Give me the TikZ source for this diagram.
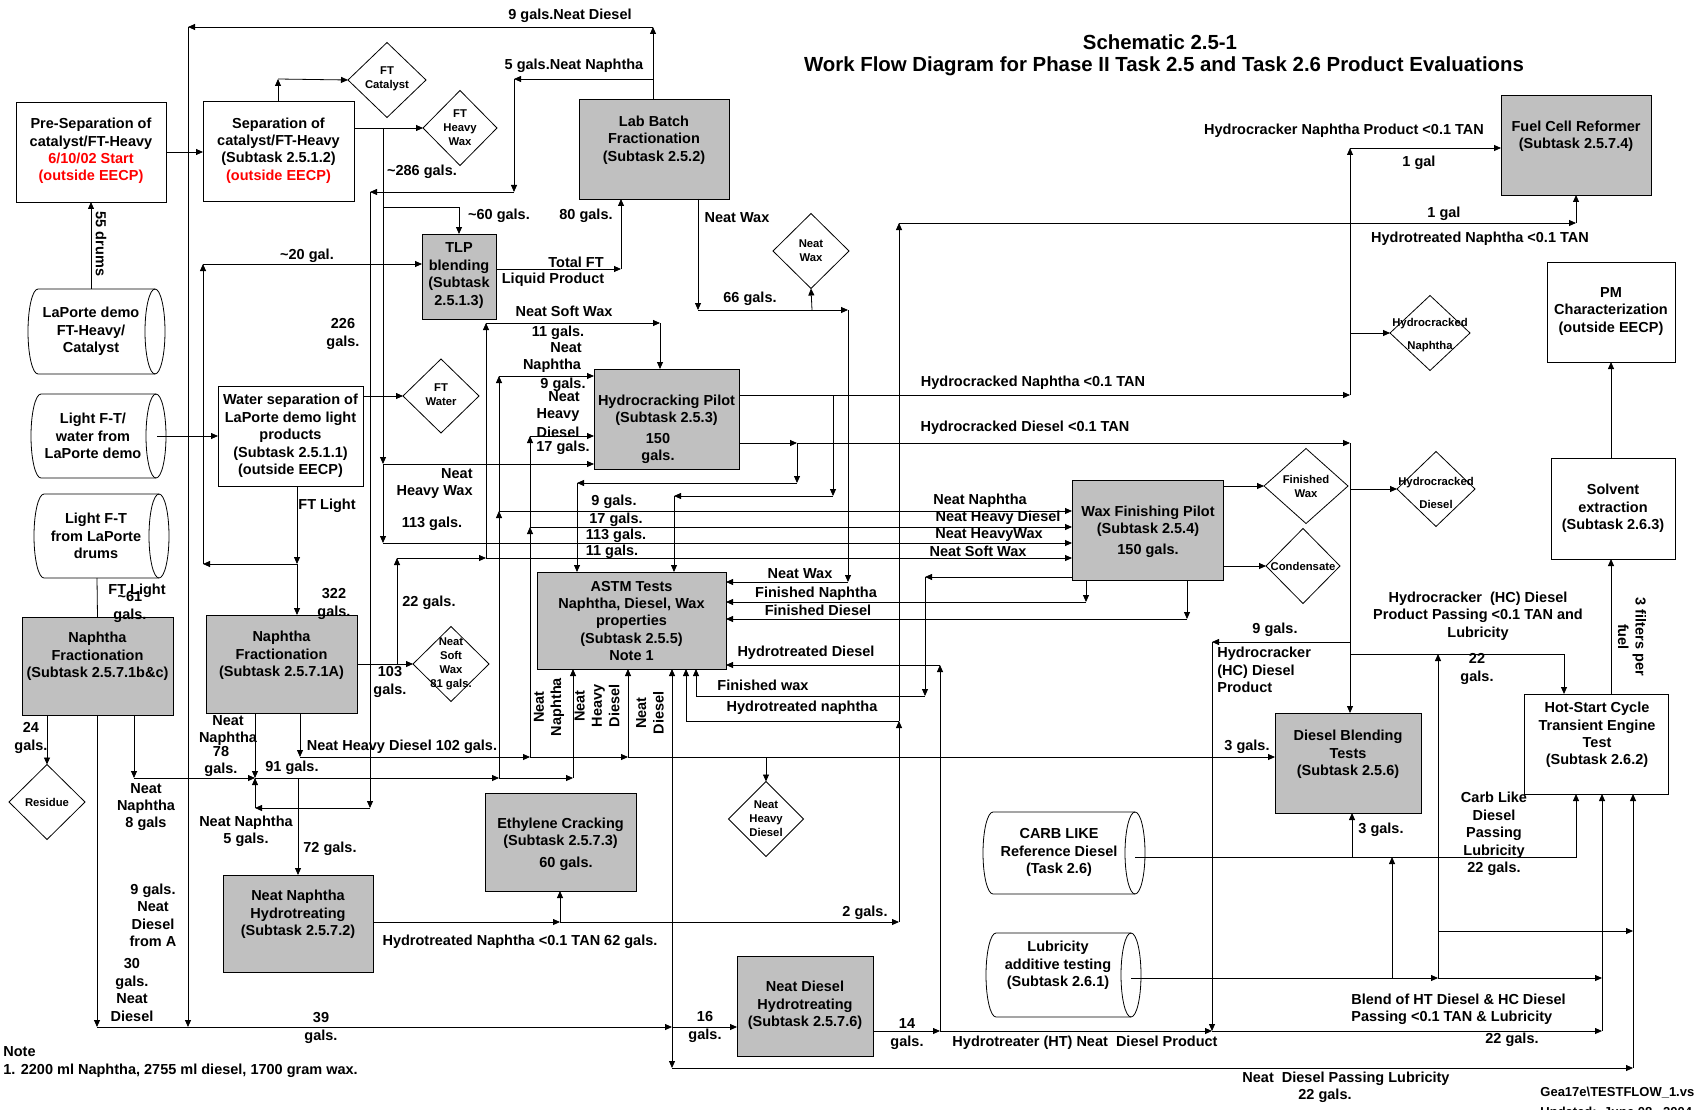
\documentclass[tikz,border=0pt]{standalone}
\usepackage{fontspec}
\setmainfont{Liberation Sans}
\usetikzlibrary{arrows.meta,shapes.geometric}
\definecolor{boxgray}{RGB}{192,192,192}
\newcommand\bfnt{\fontsize{14.5}{17.4}\selectfont\bfseries}
\newcommand\sfnt{\fontsize{11.3}{14}\selectfont\bfseries}
\newcommand\tfnt{\fontsize{20.4}{24.5}\selectfont\bfseries}
\newcommand\gfnt{\fontsize{13}{16}\selectfont\bfseries}
\newcommand\cylshape[5]{%
  \draw[fill=white] ({#1+10},#2) -- ({#3-10},#2)
     arc[start angle=90,end angle=-90,x radius=10pt,y radius=#5pt]
     -- ({#1+10},#4)
     arc[start angle=270,end angle=90,x radius=10pt,y radius=#5pt] -- cycle;
  \draw ({#3-10},#2) arc[start angle=90,end angle=270,x radius=10pt,y radius=#5pt];
}
\tikzset{
  wbox/.style={draw, fill=white, rectangle, inner sep=0pt, outer sep=0pt},
  gbox/.style={wbox, fill=boxgray},
  dia/.style={draw, fill=white, diamond, inner sep=0pt, outer sep=0pt},
  tx/.style={align=center, inner sep=0pt, font=\bfnt},
  sx/.style={align=center, inner sep=0pt, font=\sfnt},
  ar/.style={-{Triangle[length=7pt,width=6pt]}},
}
\begin{document}
\begin{tikzpicture}[x=1pt,y=-1pt,line width=0.8pt]
\useasboundingbox (0,0) rectangle (1694,1110);
\clip (0,0) rectangle (1694,1110);
\fill[white] (0,0) rectangle (1694,1110);

% ---------- title ----------
\node[tx,font=\tfnt] (title1) at (1160,42) {Schematic 2.5-1};
\node[tx,font=\tfnt] (title2) at (1164,66) {Work Flow Diagram for Phase II Task 2.5 and Task 2.6 Product Evaluations};

% ---------- boxes ----------
\node[wbox, minimum width=150pt, minimum height=100pt] (presep) at (91,152) {};
\node[tx] (presep-t) at (91,151) {Pre-Separation of\\catalyst/FT-Heavy\\\textcolor{red}{6/10/02 Start}\\\textcolor{red}{(outside EECP)}};
\node[wbox, minimum width=151pt, minimum height=100pt] (sep) at (278.5,151) {};
\node[tx] (sep-t) at (278.5,150.5) {Separation of\\catalyst/FT-Heavy\\(Subtask 2.5.1.2)\\\textcolor{red}{(outside EECP)}};
\node[gbox, minimum width=150pt, minimum height=100pt] (labbatch) at (654,149) {};
\node[tx] (labbatch-t) at (654,140) {Lab Batch\\Fractionation\\(Subtask 2.5.2)};
\node[gbox, minimum width=74pt, minimum height=85pt] (tlp) at (459,276.5) {};
\node[tx] (tlp-t) at (459,275.5) {TLP\\blending\\(Subtask\\2.5.1.3)};
\node[wbox, minimum width=145pt, minimum height=100pt] (watersep) at (290.5,436) {};
\node[tx] (watersep-t) at (290.5,436) {Water separation of\\LaPorte demo light\\products\\(Subtask 2.5.1.1)\\(outside EECP)};
\node[gbox, minimum width=151pt, minimum height=98pt] (nfbc) at (97.5,666) {};
\node[tx] (nfbc-t) at (97.5,656.5) {Naphtha\\Fractionation\\(Subtask 2.5.7.1b\&c)};
\node[gbox, minimum width=151pt, minimum height=98pt] (nfa) at (281.5,664) {};
\node[tx] (nfa-t) at (281.5,655.5) {Naphtha\\Fractionation\\(Subtask 2.5.7.1A)};
\node[gbox, minimum width=145pt, minimum height=100pt] (hc) at (666.5,419) {};
\node[tx] (hc-t) at (666.5,410) {Hydrocracking Pilot\\(Subtask 2.5.3)};
\node[tx] (hc-t2) at (658,448.5) {150\\gals.};
\node[gbox, minimum width=189pt, minimum height=97pt] (astm) at (631.5,620.5) {};
\node[tx] (astm-t) at (631.5,621) {ASTM Tests\\Naphtha, Diesel, Wax\\properties\\(Subtask 2.5.5)\\Note 1};
\node[gbox, minimum width=151pt, minimum height=100pt] (wfp) at (1147.5,530) {};
\node[tx] (wfp-t) at (1148,521) {Wax Finishing Pilot\\(Subtask 2.5.4)};
\node[tx] (wfp-t2) at (1148,551) {150 gals.};
\node[gbox, minimum width=150pt, minimum height=100pt] (fuel) at (1576,145) {};
\node[tx] (fuel-t) at (1576,136) {Fuel Cell Reformer\\(Subtask 2.5.7.4)};
\node[wbox, minimum width=128pt, minimum height=100pt] (pm) at (1611,312) {};
\node[tx] (pm-t) at (1611,311.5) {PM\\Characterization\\(outside EECP)};
\node[wbox, minimum width=124pt, minimum height=101pt] (solv) at (1613,508.5) {};
\node[tx] (solv-t) at (1613,508.5) {Solvent\\extraction\\(Subtask 2.6.3)};
\node[wbox, minimum width=144pt, minimum height=100pt] (hot) at (1596,744) {};
\node[tx] (hot-t) at (1597,735) {Hot-Start Cycle\\Transient Engine\\Test\\(Subtask 2.6.2)};
\node[gbox, minimum width=146pt, minimum height=100pt] (dbt) at (1348,763) {};
\node[tx] (dbt-t) at (1348,754.5) {Diesel Blending\\Tests\\(Subtask 2.5.6)};
\node[gbox, minimum width=151pt, minimum height=98pt] (eth) at (560.5,842) {};
\node[tx] (eth-t) at (560.5,833) {Ethylene Cracking\\(Subtask 2.5.7.3)};
\node[tx] (eth-t2) at (566,864) {60 gals.};
\node[gbox, minimum width=150pt, minimum height=97pt] (nnh) at (298,923.5) {};
\node[tx] (nnh-t) at (298,914.5) {Neat Naphtha\\Hydrotreating\\(Subtask 2.5.7.2)};
\node[gbox, minimum width=136pt, minimum height=100pt] (ndh) at (805,1006) {};
\node[tx] (ndh-t) at (805,1005.5) {Neat Diesel\\Hydrotreating\\(Subtask 2.5.7.6)};

% ---------- cylinders ----------
\cylshape{28}{289}{165}{374}{42.5}
\node[tx] (laporte) at (91,331.5) {LaPorte demo\\FT-Heavy/\\Catalyst};
\cylshape{31}{394}{166}{478}{42}
\node[tx] (ltw) at (93,436) {Light F-T/\\water from\\LaPorte demo};
\cylshape{34}{494}{169}{578}{42}
\node[tx] (ltd) at (96,536) {Light F-T\\from LaPorte\\drums};
\cylshape{983}{812}{1145}{894}{41}
\node[tx] (carb) at (1059,852.5) {CARB LIKE\\Reference Diesel\\(Task 2.6)};
\cylshape{986}{933}{1141}{1017}{42}
\node[tx] (lub) at (1058,965.5) {Lubricity\\additive testing\\(Subtask 2.6.1)};

% ---------- diamonds ----------
\node[dia, minimum width=78pt, minimum height=75pt] (ftcat) at (387,80) {};
\node[sx] (ftcat-t) at (387,79) {FT\\Catalyst};
\node[dia, minimum width=74pt, minimum height=75pt] (ftwax) at (460,128) {};
\node[sx] (ftwax-t) at (460,128) {FT\\Heavy\\Wax};
\node[dia, minimum width=76pt, minimum height=75pt] (neatwax) at (811,251) {};
\node[sx] (neatwax-t) at (811,251) {Neat\\Wax};
\node[dia, minimum width=76pt, minimum height=74pt] (ftwater) at (441,396) {};
\node[sx] (ftwater-t) at (441,395) {FT\\Water};
\node[dia, minimum width=76pt, minimum height=75pt] (nsw) at (451,664) {};
\node[sx] (nsw-t) at (451,664) {Neat\\Soft\\Wax\\81 gals.};
\node[dia, minimum width=76pt, minimum height=75pt] (residue) at (47,802) {};
\node[sx] (residue-t) at (47,802) {Residue};
\node[dia, minimum width=75pt, minimum height=75pt] (nhd) at (766,819) {};
\node[sx] (nhd-t) at (766,819) {Neat\\Heavy\\Diesel};
\node[dia, minimum width=84pt, minimum height=75pt] (finwax) at (1306,486) {};
\node[sx] (finwax-t) at (1306,486) {Finished\\Wax};
\node[dia, minimum width=78pt, minimum height=75pt] (hcd) at (1436,489) {};
\node[sx] (hcd-t) at (1436,492.5) {Hydrocracked\\[9pt]Diesel};
\node[dia, minimum width=74pt, minimum height=75pt] (cond) at (1303,566) {};
\node[sx] (cond-t) at (1303,566) {Condensate};
\node[dia, minimum width=80pt, minimum height=75pt] (hcn) at (1430,333) {};
\node[sx] (hcn-t) at (1430,335.5) {Hydrocracked\\[9pt]Naphtha};

% ---------- connectors ----------
\draw[ar] (91,289) -- (presep.south);
\draw[ar] (presep.east) -- (presep.east -| sep.west);
% 9 gals neat diesel
\draw[ar] (653,0 |- labbatch.north) -- (653,27);
\draw[ar] (653,27) -- (188,27);
\draw[ar] (188,27) -- (188,1027);
% 5 gals neat naphtha
\draw[ar] (653,79) -- (514,79);
\draw[ar] (514,79) -- (514,192);
\draw[ar] (514,192) -- (370,192);
\draw[ar] (370,192) -- (370,808);
\draw[ar] (370,808) -- (255,808);
\draw[ar] (255,808) -- (255,778);
% separation outputs
\draw[ar] (278,0 |- sep.north) -- (278,79);
\draw[ar] (278,79) -- (ftcat.west);
\draw[ar] (sep.east |- 0,128) -- (ftwax.west);
\draw[ar] (383,128) -- (383,464);
\draw[ar] (383,464) -- (0,464 -| hc.west);
\draw[ar] (383,464) -- (383,543);
\draw[ar] (383,543) -- (0,543 -| wfp.west);
\draw[ar] (383,207) -| (tlp.north);
% FT light / 20 gal
\draw[ar] (297,0 |- watersep.south) -- (297,564);
\draw[ar] (297,564) -- (203,564);
\draw[ar] (203,564) -- (203,264);
\draw[ar] (203,264) -- (tlp.west |- 0,264);
\draw[ar] (297,564) -- (297,0 |- nfa.north);
\draw[ar] (157,436) -- (watersep.west);
\draw[ar] (watersep.east |- 0,396) -- (ftwater.west);
\draw (97,578) -- (nfbc.north);
% naphtha fractionation b&c outputs
\draw[ar] (47,0 |- nfbc.south) -- (residue.north);
\draw[ar] (97,0 |- nfbc.south) -- (97,1027);
\draw[ar] (134,0 |- nfbc.south) -- (134,778);
\draw[ar] (134,778) -- (255,778);
% naphtha fractionation A outputs
\draw[ar] (255,0 |- nfa.south) -- (255,778);
\draw[ar] (255,778) -- (499,778);
\draw[ar] (499,778) -- (573,778);
\draw[ar] (499,778) -- (499,511);
\draw[ar] (499,511) -- (499,376);
\draw[ar] (499,376) -- (0,376 -| hc.west);
\draw[ar] (499,511) -- (0,511 -| wfp.west);
\draw[ar] (573,778) -- (573,0 |- astm.south);
\draw[ar] (298,778) -- (nnh.north);
% neat heavy diesel 102 gals
\draw[ar] (300,0 |- nfa.south) -- (300,757);
\draw[ar] (300,757) -- (530,757);
\draw[ar] (530,757) -- (628,757);
\draw[ar] (628,757) -- (dbt.west |- 0,757);
\draw[ar] (530,757) -- (530,527);
\draw[ar] (530,527) -- (530,436);
\draw[ar] (530,436) -- (0,436 -| hc.west);
\draw[ar] (530,527) -- (0,527 -| wfp.west);
\draw[ar] (628,757) -- (628,0 |- astm.south);
\draw[ar] (766,757) -- (nhd.north);
% neat soft wax
\draw[ar] (nfa.east |- 0,664) -- (nsw.west);
\draw[ar] (397,664) -- (397,558);
\draw[ar] (397,558) -- (486,558);
\draw[ar] (486,558) -- (486,323);
\draw[ar] (486,323) -- (660,323);
\draw[ar] (660,323) -- (660,0 |- hc.north);
\draw[ar] (486,558) -- (0,558 -| wfp.west);
% TLP -> lab batch
\draw[ar] (tlp.east |- 0,269) -- (621,269);
\draw[ar] (621,269) -- (621,0 |- labbatch.south);
% lab batch neat wax
\draw[ar] (698,0 |- labbatch.south) -- (698,310);
\draw[ar] (698,310) -- (848,310);
\draw[ar] (812,310) -- (neatwax.south);
\draw[ar] (848,310) -- (848,582);
\draw[ar] (848,582) -- (0,582 -| astm.east);
% hydrocracking outputs
\draw[ar] (hc.east |- 0,395) -- (1350,395);
\draw[ar] (1350,395) -- (1350,148);
\draw[ar] (1350,148) -- (fuel.west |- 0,148);
\draw[ar] (1350,333) -- (hcn.west);
\draw[ar] (hc.east |- 0,443) -- (797,443);
\draw[ar] (797,443) -- (1350,443);
\draw[ar] (1350,443) -- (1350,0 |- dbt.north);
\draw[ar] (1350,489) -- (hcd.west);
\draw[ar] (797,443) -- (797,483);
\draw[ar] (797,483) -- (577,483);
\draw[ar] (577,483) -- (577,0 |- astm.north);
\draw[ar] (833,395) -- (833,496);
\draw[ar] (833,496) -- (674,496);
\draw[ar] (674,496) -- (674,0 |- astm.north);
% hydrotreated naphtha
\draw[ar] (nnh.east |- 0,922) -- (560,922);
\draw[ar] (560,922) -- (899,922);
\draw[ar] (560,922) -- (560,0 |- eth.south);
\draw[ar] (899,922) -- (899,721);
\draw[ar] (899,721) -- (899,223);
\draw[ar] (899,223) -- (1576,223);
\draw[ar] (1576,223) -- (fuel.south);
\draw (899,721) -- (686,721);
\draw[ar] (686,721) -- (686,0 |- astm.south);
% wax finishing outputs
\draw[ar] (1086,0 |- wfp.south) -- (1086,602);
\draw[ar] (1086,602) -- (0,602 -| astm.east);
\draw[ar] (1187,0 |- wfp.south) -- (1187,619);
\draw[ar] (1187,619) -- (0,619 -| astm.east);
\draw[ar] (wfp.west |- 0,577) -- (925,577);
\draw[ar] (925,577) -- (925,696);
\draw (925,696) -- (696,696);
\draw[ar] (696,696) -- (696,0 |- astm.south);
\draw[ar] (wfp.east |- 0,486) -- (finwax.west);
\draw[ar] (wfp.east |- 0,566) -- (cond.west);
% hydrotreated diesel
\draw[ar] (ndh.east |- 0,1031) -- (940,1031);
\draw[ar] (940,1031) -- (940,665);
\draw[ar] (940,665) -- (0,665 -| astm.east);
\draw[ar] (940,1031) -- (1212,1031);
\draw[ar] (1212,1031) -- (1602,1031);
\draw[ar] (1602,1031) -- (1602,0 |- hot.south);
\draw[ar] (1350,642) -- (1212,642);
\draw[ar] (1212,642) -- (1212,1031);
\draw[ar] (1350,654) -| (1564,0 |- hot.north);
% lubricity
\draw[ar] (1131,978) -- (1438,978);
\draw[ar] (1438,978) -- (1438,654);
\draw[ar] (1438,978) -- (1602,978);
\draw[ar] (1438,931) -- (1633,931);
\draw[ar] (1392,978) -- (1392,857);
% carb
\draw[ar] (1135,857) -| (1576,0 |- hot.south);
\draw[ar] (1352,857) -- (1352,0 |- dbt.south);
% neat diesel
\draw[ar] (97,1027) -- (672,1027);
\draw[ar] (672,1027) -- (ndh.west |- 0,1027);
\draw[ar] (672,1027) -- (672,0 |- astm.south);
\draw[ar] (672,1027) -- (672,1068);
\draw[ar] (672,1068) -- (1633,1068);
\draw[ar] (1633,1068) -- (1633,0 |- hot.south);
% engine test -> solvent -> PM
\draw[ar] (1611,0 |- hot.north) -- (1611,0 |- solv.south);
\draw[ar] (1611,0 |- solv.north) -- (pm.south);

% ---------- labels ----------
\node[tx,rotate=-90] (l1) at (101,244) {55 drums};
\node[tx] (l2) at (307,256) {\textasciitilde20 gal.};
\node[tx] (l3) at (343,334) {226\\gals.};
\node[tx] (l4) at (422,172) {\textasciitilde286 gals.};
\node[tx] (l5) at (570,16) {9 gals.Neat Diesel};
\node[tx] (l6) at (574,66) {5 gals.Neat Naphtha};
\node[tx] (l7) at (499,216) {\textasciitilde60 gals.};
\node[tx] (l8) at (586,216) {80 gals.};
\node[tx] (l9) at (737,218) {Neat Wax};
\node[tx] (l10) at (576,262) {Total FT};
\node[tx] (l11) at (553,280) {Liquid Product};
\node[tx] (l12) at (750,299) {66 gals.};
\node[tx] (l13) at (564,311) {Neat Soft Wax};
\node[tx] (l14) at (558,333) {11 gals.};
\node[tx] (l15) at (566,348) {Neat};
\node[tx] (l16) at (552,366) {Naphtha};
\node[tx] (l17) at (563,385) {9 gals.};
\node[tx] (l18) at (564,397) {Neat};
\node[tx] (l19) at (558,415) {Heavy};
\node[tx] (l20) at (558,432) {Diesel};
\node[tx] (l21) at (563,448) {17 gals.};
\node[tx,align=right,anchor=east] (l22) at (473,483.5) {Neat\\Heavy Wax};
\node[tx] (l23) at (432,524) {113 gals.};
\node[tx] (l24) at (614,502) {9 gals.};
\node[tx] (l25) at (616,520) {17 gals.};
\node[tx] (l26) at (616,536) {113 gals.};
\node[tx] (l27) at (612,552) {11 gals.};
\node[tx] (l28) at (980,501) {Neat Naphtha};
\node[tx] (l29) at (998,518) {Neat Heavy Diesel};
\node[tx] (l30) at (989,535) {Neat HeavyWax};
\node[tx] (l31) at (978,551) {Neat Soft Wax};
\node[tx] (l32) at (1033,383) {Hydrocracked Naphtha <0.1 TAN};
\node[tx] (l33) at (1025,428) {Hydrocracked Diesel <0.1 TAN};
\node[tx] (l34) at (1344,131) {Hydrocracker Naphtha Product <0.1 TAN};
\node[tx] (l35) at (1419,163) {1 gal};
\node[tx] (l36) at (1444,214) {1 gal};
\node[tx] (l37) at (1480,239) {Hydrotreated Naphtha <0.1 TAN};
\node[tx] (l38) at (800,574) {Neat Wax};
\node[tx] (l39) at (816,594) {Finished Naphtha};
\node[tx] (l40) at (818,610) {Finished Diesel};
\node[tx] (l41) at (806,653) {Hydrotreated Diesel};
\node[tx] (l42) at (763,685) {Finished wax};
\node[tx] (l43) at (802,708) {Hydrotreated naphtha};
\node[tx,rotate=90] (l44) at (549,707) {Neat\\Naphtha};
\node[tx,rotate=90] (l45) at (597,706) {Neat\\Heavy\\Diesel};
\node[tx,rotate=90] (l46) at (650,713) {Neat\\Diesel};
\node[tx] (l47) at (327,506) {FT Light};
\node[tx] (l48) at (137,591) {FT Light};
\node[tx] (l49) at (130,607) {\textasciitilde61\\gals.};
\node[tx] (l50) at (334,604) {322\\gals.};
\node[tx] (l51) at (429,603) {22 gals.};
\node[tx] (l52) at (390,682) {103\\gals.};
\node[tx] (l53) at (31,738) {24\\gals.};
\node[tx] (l54) at (228,730.5) {Neat\\Naphtha};
\node[tx] (l55) at (221,761.5) {78\\gals.};
\node[tx] (l56) at (402,747) {Neat Heavy Diesel 102 gals.};
\node[tx] (l57) at (292,768) {91 gals.};
\node[tx] (l58) at (146,807) {Neat\\Naphtha\\8 gals};
\node[tx] (l59) at (246,831) {Neat Naphtha\\5 gals.};
\node[tx] (l60) at (330,849) {72 gals.};
\node[tx] (l61) at (153,915.5) {9 gals.\\Neat\\Diesel\\from A};
\node[tx] (l62) at (132,990) {30\\gals.\\Neat\\Diesel};
\node[tx] (l63) at (321,1028) {39\\gals.};
\node[tx,anchor=west] (l64) at (3,1052) {Note};
\node[tx,anchor=west] (l65) at (3,1071) {1. 2200 ml Naphtha, 2755 ml diesel, 1700 gram wax.};
\node[tx] (l66) at (520,942) {Hydrotreated Naphtha <0.1 TAN 62 gals.};
\node[tx] (l67) at (705,1027) {16\\gals.};
\node[tx] (l68) at (1247,747) {3 gals.};
\node[tx] (l69) at (865,913) {2 gals.};
\node[tx] (l70) at (907,1034) {14\\gals.};
\node[tx] (l71) at (1085,1043) {Hydrotreater (HT) Neat\ \ Diesel Product};
\node[tx] (l72) at (1346,1079) {Neat\ \ Diesel Passing Lubricity};
\node[tx] (l73) at (1325,1096) {22 gals.};
\node[tx] (l74) at (1275,630) {9 gals.};
\node[tx,align=left,anchor=west] (l75) at (1217,670) {Hydrocracker\\(HC) Diesel\\Product};
\node[tx] (l76) at (1478,616) {Hydrocracker\ \ (HC) Diesel\\Product Passing <0.1 TAN and\\Lubricity};
\node[tx] (l77) at (1477,669) {22\\gals.};
\node[tx,rotate=-90] (l78) at (1632,637) {3 filters per\\fuel};
\node[tx] (l79) at (1381,830) {3 gals.};
\node[tx] (l80) at (1494,834) {Carb Like\\Diesel\\Passing\\Lubricity\\22 gals.};
\node[tx,align=left,anchor=west] (l81) at (1351,1009) {Blend of HT Diesel \& HC Diesel\\Passing <0.1 TAN \& Lubricity};
\node[tx] (l82) at (1512,1040) {22 gals.};
\node[tx,font=\gfnt,anchor=west] (l83) at (1540,1093) {Gea17e\textbackslash TESTFLOW\_1.vsd};
\node[tx,font=\gfnt,anchor=west] (l84) at (1540,1113) {Updated:\ \ June 08 , 2004};
\end{tikzpicture}
\end{document}
